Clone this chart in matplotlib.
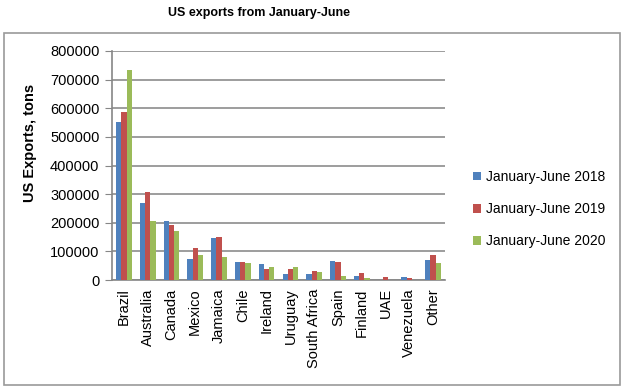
import numpy as np
import matplotlib
matplotlib.use("Agg")
import matplotlib.pyplot as plt
from matplotlib.patches import Rectangle

countries = ["Brazil", "Australia", "Canada", "Mexico", "Jamaica", "Chile", "Ireland",
             "Uruguay", "South Africa", "Spain", "Finland", "UAE", "Venezuela", "Other"]
jan_jun_2018 = [553000, 268000, 207000, 75000, 145000, 64000, 55000,
                21000, 20000, 68000, 15000, 0, 12000, 69000]
jan_jun_2019 = [588000, 306000, 193000, 111000, 149000, 64000, 39000,
                39000, 31000, 62000, 26000, 9000, 8000, 89000]
jan_jun_2020 = [732000, 207000, 172000, 87000, 81000, 61000, 46000,
                44000, 27000, 14000, 6000, 0, 0, 60000]
series_names = ["January-June 2018", "January-June 2019", "January-June 2020"]
yticks = [0, 100000, 200000, 300000, 400000, 500000, 600000, 700000, 800000]

colors = ["#4F81BD", "#C0504D", "#9BBB59"]
plt.rcParams["font.family"] = ["Liberation Sans", "DejaVu Sans"]

fig = plt.figure(figsize=(6.24, 3.88), dpi=100)
# outer chart frame
fig.patches.append(Rectangle((4 / 624, 3 / 388), 616 / 624, 352 / 388, transform=fig.transFigure,
                             fill=False, edgecolor="#9a9a9a", linewidth=1.2))
fig.text(259 / 624, 1 - 13 / 388, "US exports from January-June", ha="center", va="center",
         fontsize=9, fontweight="bold")

ax = fig.add_axes([112 / 624, 1 - 280 / 388, (445 - 112) / 624, (280 - 51) / 388])

x = np.arange(len(countries))
w = 0.22
for i, (vals, name) in enumerate(zip([jan_jun_2018, jan_jun_2019, jan_jun_2020], series_names)):
    ax.bar(x + (i - 1) * w, vals, width=w, color=colors[i], label=name, zorder=3)

ax.set_xlim(-0.5, len(countries) - 0.5)
ax.set_ylim(0, 800000)
ax.set_yticks(yticks)
ax.set_yticklabels([str(v) for v in yticks], fontsize=10.5)
ax.set_xticks(x)
ax.set_xticklabels(countries, rotation=90, fontsize=10.5)
ax.tick_params(axis="x", length=0, pad=6)
ax.tick_params(axis="y", length=5, color="#868686", pad=4)
ax.grid(axis="y", color="#8c8c8c", linewidth=1.2, zorder=0)
for s in ["top", "right"]:
    ax.spines[s].set_visible(False)
ax.spines["left"].set_color("#868686")
ax.spines["bottom"].set_color("#868686")
ax.spines["left"].set_linewidth(1.2)
ax.spines["bottom"].set_linewidth(1.2)

ax.set_ylabel("US Exports, tons", fontsize=10.5, fontweight="bold")
ax.yaxis.set_label_coords(-75 / 333, 0.6)

fig.legend(loc="center left", bbox_to_anchor=(460 / 624, 1 - 209 / 388), frameon=False,
           fontsize=10, handlelength=0.6, handleheight=0.6, handletextpad=0.35,
           labelspacing=1.3)

fig.savefig("out.png", dpi=100)
